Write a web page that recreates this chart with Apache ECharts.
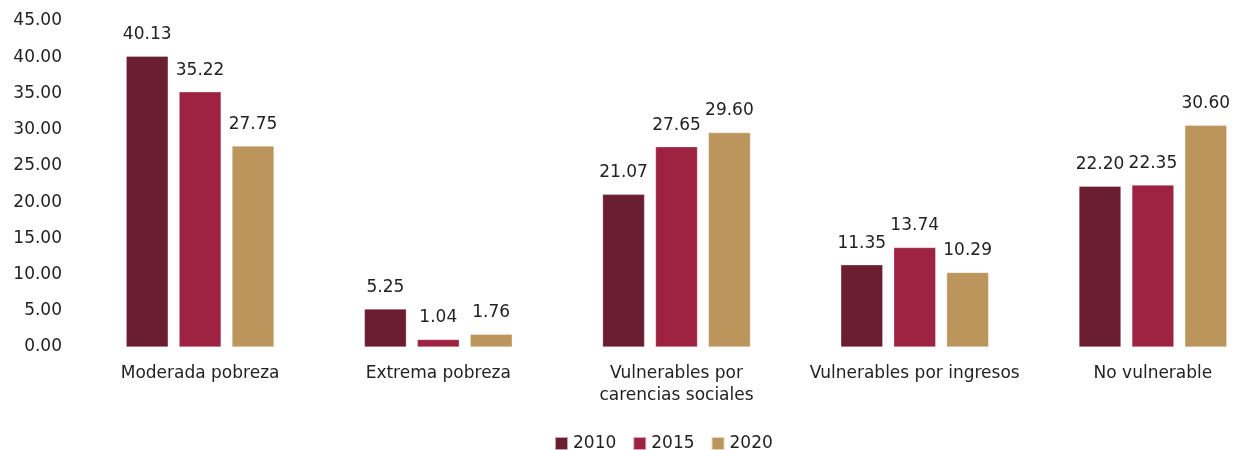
<!DOCTYPE html>
<html>
<head>
<meta charset="utf-8">
<script src="https://cdn.jsdelivr.net/npm/echarts@6/dist/echarts.min.js"></script>
<style>
  html, body { margin: 0; padding: 0; background: #fff; overflow: hidden; }
  #chart { width: 1272px; height: 450px; }
</style>
</head>
<body>
<div id="chart"></div>
<script>
const categories = ['Moderada pobreza', 'Extrema pobreza', 'Vulnerables por\ncarencias sociales', 'Vulnerables por ingresos', 'No vulnerable']
const years = ['2010', '2015', '2020']
const values2010 = [40.13, 5.25, 21.07, 11.35, 22.20]
const values2015 = [35.22, 1.04, 27.65, 13.74, 22.35]
const values2020 = [27.75, 1.76, 29.60, 10.29, 30.60]
const colors = ['#6B1D31', '#9E2241', '#BC955C']

// the plot runs a little past the right edge of the window, like the original
const chart = echarts.init(document.getElementById('chart'))
const font = '"DejaVu Sans", sans-serif'
const textColor = '#222'

function makeSeries(name, data, color) {
  return {
    name,
    type: 'bar',
    data,
    barWidth: 42,
    barGap: '26%',
    itemStyle: { color, borderColor: 'rgba(255,255,255,0.6)', borderWidth: 0.5 },
    label: {
      show: true,
      position: 'top',
      distance: 13,
      color: textColor,
      fontSize: 17,
      fontFamily: font,
      formatter: p => p.value.toFixed(2),
    },
  }
}

chart.setOption({
  animation: false,
  grid: { left: 81, right: 0, top: 21, bottom: 103 },
  legend: {
    top: 430,
    left: 549,
    itemWidth: 13,
    itemHeight: 13,
    itemGap: 16,
    icon: 'rect',
    textStyle: { color: textColor, fontSize: 17, fontFamily: font },
    data: years,
  },
  xAxis: {
    type: 'category',
    data: categories,
    axisLine: { show: false },
    axisTick: { show: false },
    axisLabel: {
      color: textColor,
      fontSize: 17,
      fontFamily: font,
      margin: 16,
      lineHeight: 22,
      interval: 0,
    },
  },
  yAxis: {
    type: 'value',
    min: 0,
    max: 45,
    interval: 5,
    splitLine: { show: false },
    axisLine: { show: false },
    axisTick: { show: false },
    axisLabel: {
      color: textColor,
      fontSize: 17,
      fontFamily: font,
      margin: 19,
      formatter: v => v.toFixed(2),
    },
  },
  series: [
    makeSeries(years[0], values2010, colors[0]),
    makeSeries(years[1], values2015, colors[1]),
    makeSeries(years[2], values2020, colors[2]),
  ],
})
</script>
</body>
</html>
